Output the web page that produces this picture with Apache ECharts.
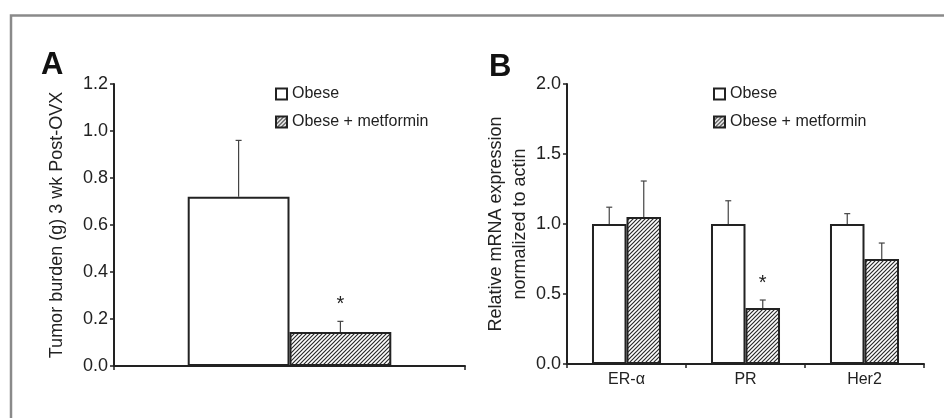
<!DOCTYPE html>
<html>
<head>
<meta charset="utf-8">
<script src="https://cdn.jsdelivr.net/npm/echarts@6/dist/echarts.min.js"></script>
<style>html,body{margin:0;padding:0;background:#fff}#c{width:944px;height:418px}</style>
</head>
<body>
<div id="c"></div>
<script>
// ---- Data ----
var seriesNames = ['Obese', 'Obese + metformin'];
var catsA = [''];
var obeseA = [0.72];
var obeseAErr = [0.24];
var metA = [0.145];
var metAErr = [0.045];
var starA = [false, true]; // [obese, metformin] per category (single cat)
var ticksA = { min: 0, max: 1.2, interval: 0.2 };

var catsB = ['ER-\u03b1', 'PR', 'Her2'];
var obeseB = [1.0, 1.0, 1.0];
var obeseBErr = [0.12, 0.166, 0.074];
var metB = [1.05, 0.40, 0.75];
var metBErr = [0.257, 0.057, 0.114];
var starsMetB = [false, true, false];
var ticksB = { min: 0, max: 2.0, interval: 0.5 };

// ---- Styles ----
var FONT = 'Liberation Sans, Arial, sans-serif';
var GAP = 0.42;
var INK = '#222';

function hatch() {
  var s = 4;
  var c = document.createElement('canvas');
  c.width = s; c.height = s;
  var g = c.getContext('2d');
  g.fillStyle = '#fff'; g.fillRect(0, 0, s, s);
  g.strokeStyle = '#2a2a2a'; g.lineWidth = 1.2;
  g.beginPath();
  g.moveTo(0, s); g.lineTo(s, 0);
  g.moveTo(-1, 1); g.lineTo(1, -1);
  g.moveTo(s - 1, s + 1); g.lineTo(s + 1, s - 1);
  g.stroke();
  return c;
}
var hatchImg = hatch();

var obeseStyle = { color: '#fff', borderColor: INK, borderWidth: 2 };
var metStyle = { color: { image: hatchImg, repeat: 'repeat' }, borderColor: INK, borderWidth: 2 };

function errSeries(gridIdx, vals, errs, stars, side) {
  var data = vals.map(function (v, i) { return [i, v, errs[i], stars[i] ? 1 : 0]; });
  return {
    type: 'custom',
    xAxisIndex: gridIdx, yAxisIndex: gridIdx,
    z: 10,
    silent: true,
    data: data,
    renderItem: function (params, api) {
      var idx = api.value(0), v = api.value(1), e = api.value(2), st = api.value(3);
      var base = api.coord([idx, v]);
      var top = api.coord([idx, v + e]);
      var catW = api.size([1, 0])[0];
      var barW = catW * (1 - GAP) / 2;
      var x = base[0] + side * barW / 2;
      var children = [
        { type: 'line', shape: { x1: x, y1: base[1], x2: x, y2: top[1] }, style: { stroke: '#444', lineWidth: 1.2 } },
        { type: 'line', shape: { x1: x - 3, y1: top[1], x2: x + 3, y2: top[1] }, style: { stroke: '#444', lineWidth: 1.2 } }
      ];
      if (st) {
        children.push({ type: 'text', style: { text: '*', x: x, y: top[1] - 7, align: 'center', verticalAlign: 'bottom', fontSize: 20, fontFamily: FONT, fill: INK } });
      }
      return { type: 'group', children: children };
    }
  };
}

function yAxis(gridIdx, t, name, gap) {
  return {
    type: 'value', gridIndex: gridIdx, min: t.min, max: t.max, interval: t.interval,
    name: name, nameLocation: 'middle', nameGap: gap,
    nameTextStyle: { fontSize: 18, fontFamily: FONT, color: INK, lineHeight: 24 },
    axisLine: { show: true, lineStyle: { color: INK, width: 2 } },
    axisTick: { show: true, length: 4, lineStyle: { color: INK, width: 1.5 } },
    axisLabel: { fontSize: 18, fontFamily: FONT, color: INK, margin: 6, formatter: function (v) { return v.toFixed(1); } },
    splitLine: { show: false }
  };
}
function xAxis(gridIdx, cats) {
  return {
    type: 'category', gridIndex: gridIdx, data: cats,
    axisLine: { show: true, lineStyle: { color: INK, width: 2 } },
    axisTick: { show: true, length: 4, lineStyle: { color: INK, width: 1.5 } },
    axisLabel: { fontSize: 16, fontFamily: FONT, color: INK, margin: 8 }
  };
}
function legend(left) {
  return {
    left: left, top: 86, orient: 'vertical', padding: 0, itemGap: 12,
    itemWidth: 11, itemHeight: 11, icon: 'rect',
    data: seriesNames, selectedMode: false,
    itemStyle: { borderColor: INK, borderWidth: 2 },
    textStyle: { fontSize: 16, fontFamily: FONT, color: INK, lineHeight: 14 }
  };
}

var option = {
  animation: false,
  backgroundColor: '#fff',
  graphic: [
    { type: 'rect', shape: { x: 11, y: 15.5, width: 1000, height: 600 }, style: { fill: 'none', stroke: '#8a8a8a', lineWidth: 2.5 }, silent: true },
    { type: 'text', left: 41, top: 50, style: { text: 'A', fontSize: 31, fontWeight: 'bold', fontFamily: FONT, fill: '#111' } },
    { type: 'text', left: 489, top: 52, style: { text: 'B', fontSize: 31, fontWeight: 'bold', fontFamily: FONT, fill: '#111' } }
  ],
  legend: [legend(275), legend(713)],
  grid: [
    { left: 114, right: 479, top: 84, bottom: 52 },
    { left: 567, right: 20, top: 84, bottom: 54 }
  ],
  xAxis: [xAxis(0, catsA), xAxis(1, catsB)],
  yAxis: [yAxis(0, ticksA, 'Tumor burden (g) 3 wk Post-OVX', 45), yAxis(1, ticksB, 'Relative mRNA expression\nnormalized to actin', 33)],
  series: [
    { name: seriesNames[0], type: 'bar', xAxisIndex: 0, yAxisIndex: 0, data: obeseA, itemStyle: obeseStyle, barGap: '0%', barCategoryGap: (GAP * 100) + '%' },
    { name: seriesNames[1], type: 'bar', xAxisIndex: 0, yAxisIndex: 0, data: metA, itemStyle: metStyle, barGap: '0%', barCategoryGap: (GAP * 100) + '%' },
    { name: seriesNames[0], type: 'bar', xAxisIndex: 1, yAxisIndex: 1, data: obeseB, itemStyle: obeseStyle, barGap: '0%', barCategoryGap: (GAP * 100) + '%' },
    { name: seriesNames[1], type: 'bar', xAxisIndex: 1, yAxisIndex: 1, data: metB, itemStyle: metStyle, barGap: '0%', barCategoryGap: (GAP * 100) + '%' },
    errSeries(0, obeseA, obeseAErr, [starA[0]], -1),
    errSeries(0, metA, metAErr, [starA[1]], 1),
    errSeries(1, obeseB, obeseBErr, [false, false, false], -1),
    errSeries(1, metB, metBErr, starsMetB, 1)
  ]
};
var chart = echarts.init(document.getElementById('c'), null, { renderer: 'canvas' });
chart.setOption(option);
</script>
</body>
</html>
